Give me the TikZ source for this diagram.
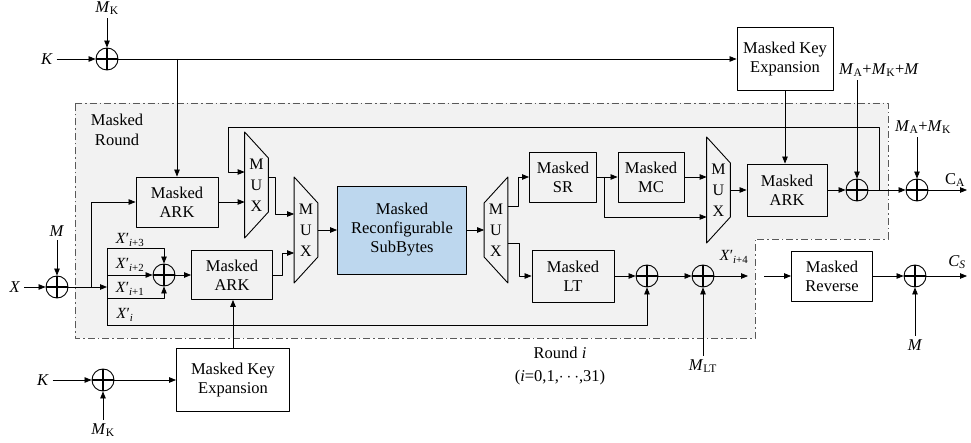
\documentclass[tikz,border=0pt]{standalone}
\usepackage{fontspec}
\setmainfont{Liberation Serif}
\usetikzlibrary{arrows.meta,calc}
\definecolor{roundgray}{HTML}{F2F2F2}
\definecolor{edgegray}{HTML}{595959}
\definecolor{sboxblue}{HTML}{BDD7EE}
\newcommand{\Xp}[1]{\textit{X}′\textsubscript{#1}}
\newcommand{\muxdraw}[3]{% name, left half height, right half height
	\draw[line width=0.9pt] ([yshift=#2pt]#1.west) -- ([yshift=-#2pt]#1.west)
	-- ([yshift=-#3pt]#1.east) -- ([yshift=#3pt]#1.east) -- cycle;}
\tikzset{
	blk/.style={draw, align=center, inner sep=0pt, line width=0.9pt},
	xor/.style={circle, draw, line width=0.9pt, minimum size=22pt, inner sep=0pt,
		path picture={\draw[line width=1.6pt]
			(path picture bounding box.north) -- (path picture bounding box.south)
			(path picture bounding box.west) -- (path picture bounding box.east);}},
	muxlbl/.style={minimum width=23pt, inner sep=0pt, align=center,
		font=\fontsize{16}{21}\selectfont},
	xlbl/.style={inner sep=0pt, font=\fontsize{15.5}{16}\selectfont},
}
\begin{document}
\begin{tikzpicture}[x=1pt, y=-1pt, font=\fontsize{16.5}{19}\selectfont,
	line width=0.75pt, line join=round, >={Triangle[length=7pt,width=5.5pt]}]
	\useasboundingbox (0,0) rectangle (971,443);
	% masked round area
	\filldraw[fill=roundgray, draw=edgegray, line width=0.9pt,
	dash pattern=on 7pt off 3pt on 1.5pt off 3pt]
	(75,103) -- (888,103) -- (888,239) -- (755,239) -- (755,338) -- (75,338) -- cycle;
	\node[align=center, font=\fontsize{16.5}{19.5}\selectfont] (mr) at (117,130) {Masked\\Round};
	\node[align=center, font=\fontsize{16.5}{23}\selectfont] (ri) at (560,366)
	{Round \textit{i}\\(\textit{i}=0,1,$\cdots$,31)};
	% blocks
	\node[blk, minimum width=96pt, minimum height=63pt] (kexpA) at (785,59) {Masked Key\\Expansion};
	\node[blk, minimum width=113pt, minimum height=63pt] (kexpB) at (233,380) {Masked Key\\Expansion};
	\node[blk, minimum width=82pt, minimum height=50pt] (arkA) at (177,202) {Masked\\ARK};
	\node[blk, minimum width=81pt, minimum height=49pt] (arkB) at (232,275) {Masked\\ARK};
	\node[blk, minimum width=80pt, minimum height=52pt] (arkC) at (787,190) {Masked\\ARK};
	\node[blk, fill=sboxblue, minimum width=129pt, minimum height=88pt] (sbox) at (402,230)
	{Masked\\Reconfigurable\\SubBytes};
	\node[blk, minimum width=67pt, minimum height=50pt] (sr) at (563,177) {Masked\\SR};
	\node[blk, minimum width=66pt, minimum height=50pt] (mc) at (651,177) {Masked\\MC};
	\node[blk, minimum width=82pt, minimum height=52pt] (lt) at (573,276) {Masked\\LT};
	\node[blk, minimum width=81pt, minimum height=50pt] (rev) at (832,276) {Masked\\Reverse};
	% multiplexers
	\foreach \n/\x/\y in {muxA/256.5/185, muxB/306/230, muxC/496/230, muxD/718.5/190}
	\node[muxlbl] (\n) at (\x,\y) {M\\U\\X};
	\muxdraw{muxA}{53}{27}
	\muxdraw{muxB}{53}{27}
	\muxdraw{muxC}{27}{53}
	\muxdraw{muxD}{53}{27}
	% xors
	\foreach \n/\x/\y in {xkA/107/59, xkB/103/380, xm/57/287, xp/164/275, xa/857/190,
		xb/917/190, xl/647/276, xn/703/276, xr/915/276}
	\node[xor] (\n) at (\x,\y) {};
	% labels
	\node (lK1) at (47,59) {\textit{K}};
	\node (lMK1) at (107,8) {\textit{M}\textsubscript{K}};
	\node (lK2) at (43,380) {\textit{K}};
	\node (lMK2) at (103,430) {\textit{M}\textsubscript{K}};
	\node (lX) at (15,287) {\textit{X}};
	\node (lM1) at (57,231) {\textit{M}};
	\node (lMA1) at (879,70) {\textit{M}\textsubscript{A}+\textit{M}\textsubscript{K}+\textit{M}};
	\node (lMA2) at (923,127) {\textit{M}\textsubscript{A}+\textit{M}\textsubscript{K}};
	\node (lMLT) at (703,366) {\textit{M}\textsubscript{LT}};
	\node (lM2) at (915,345) {\textit{M}};
	\node (lCA) at (955,180) {C\textsubscript{A}};
	\node (lCS) at (957,262) {\textit{C}\textsubscript{\textit{S}}};
	\node[xlbl] (lX4) at (734,257) {\Xp{\textit{i}+4}};
	\foreach \s/\y in {\textit{i}+3/240, \textit{i}+2/265, \textit{i}+1/289}
	\node[xlbl] at (130,\y) {\Xp{\s}};
	\node[xlbl] (lX0) at (125,315) {\Xp{\textit{i}}};
	% free ends
	\path
	(107,248) coordinate (bus3)
	(107,275) coordinate (bus2)
	(107,298) coordinate (bus1)
	(107,325) coordinate (bus0)
	(107,287) coordinate (busin)
	(91,287) coordinate (br)
	(879,190) coordinate (fbA)
	(228,127) coordinate (fbB)
	(748,276) coordinate (x4end)
	(764,276) coordinate (revin)
	(967,190) coordinate (caend)
	(967,276) coordinate (csend);
	% key path
	\draw[->] (lK1) -- (xkA);
	\draw[->] (lMK1) -- (xkA);
	\draw[->] (xkA) -- (kexpA);
	\draw[->] (xkA -| arkA) -- (arkA);
	\draw[->] (lK2) -- (xkB);
	\draw[->] (lMK2) -- (xkB);
	\draw[->] (xkB) -- (kexpB);
	\draw[->] (kexpB.north) -- (kexpB.north |- arkB.south);
	\draw[->] (kexpA.south) -- (kexpA.south |- arkC.north);
	% data path
	\draw[->] (lX) -- (xm);
	\draw[->] (lM1) -- (xm);
	\draw[->] (xm) -- (busin);
	\draw[->] (br) |- (arkA);
	\draw (bus3) -- (bus0);
	\draw[->] (bus3) -| (xp);
	\draw[->] (bus2) -- (xp);
	\draw[->] (bus1) -| (xp);
	\draw[->] (bus0) -| (xl);
	\draw[->] (xp) -- (arkB);
	\draw[->] (arkB.east) -- ++(9,0) |- ([yshift=-23pt]muxB.west);
	\draw[->] (arkA) -- (arkA -| muxA.west);
	\draw[->] (fbA) |- (fbB) |- ([yshift=13pt]muxA.west);
	\draw[->] ([yshift=8pt]muxA.east) -- ++(7,0) |- ([yshift=16pt]muxB.west);
	\draw[->] (muxB) -- (sbox);
	\draw[->] (sbox) -- (muxC);
	\draw[->] ([yshift=24pt]muxC.east) -- ++(10,0) |- (sr);
	\draw[->] ([yshift=-13pt]muxC.east) -- ++(11,0) |- (lt);
	\draw[->] (sr) -- (mc);
	\draw[->] ([xshift=7pt]sr.east) |- ([yshift=-27pt]muxD.west);
	\draw[->] (mc) -- (mc -| muxD.west);
	\draw[->] (muxD) -- (arkC);
	\draw[->] (arkC) -- (xa);
	\draw[->] (lMA1.south -| xa) -- (xa);
	\draw[->] (xa) -- (xb);
	\draw[->] (lMA2.south -| xb) -- (xb);
	\draw[->] (xb) -- (caend);
	\draw[->] (lt) -- (xl);
	\draw[->] (xl) -- (xn);
	\draw[->] (lMLT) -- (xn);
	\draw[->] (xn) -- (x4end);
	\draw[->] (revin) -- (rev);
	\draw[->] (rev) -- (xr);
	\draw[->] (lM2) -- (xr);
	\draw[->] (xr) -- (csend);
\end{tikzpicture}
\end{document}
